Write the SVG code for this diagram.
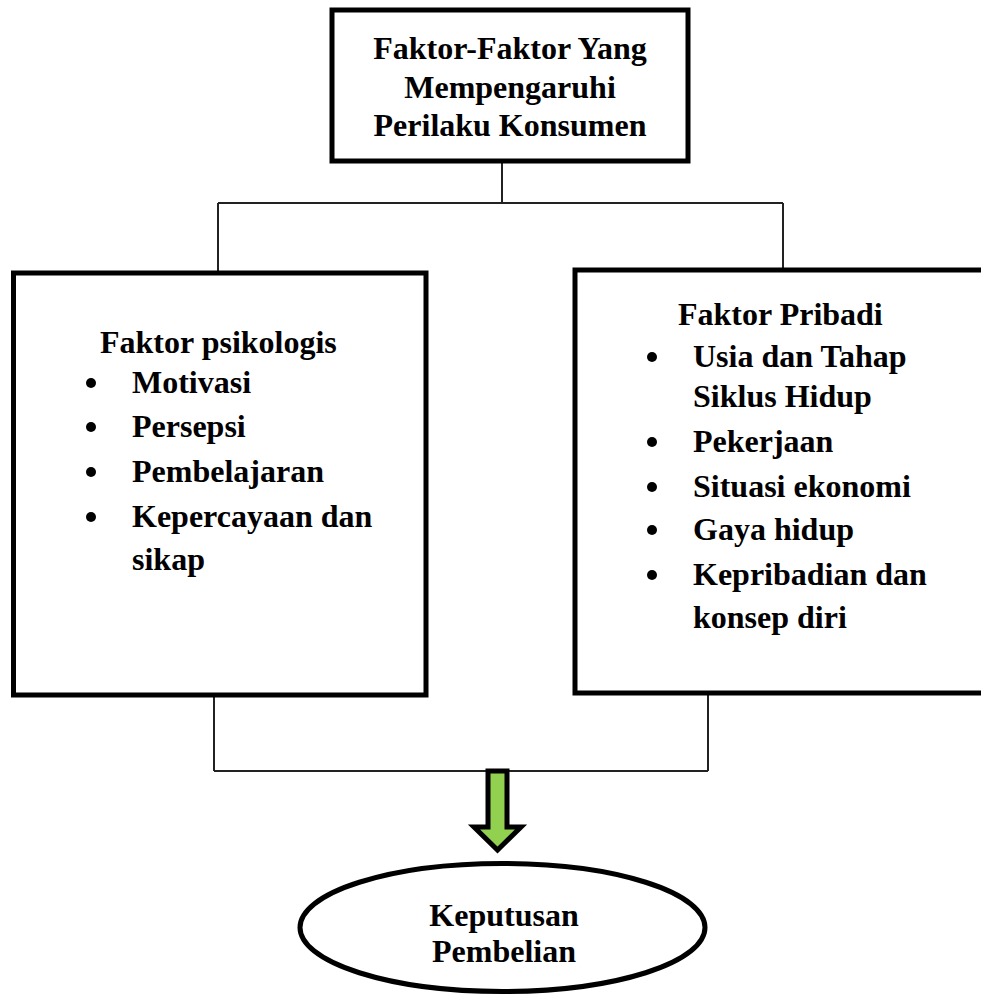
<svg xmlns="http://www.w3.org/2000/svg" width="981" height="994" viewBox="0 0 981 994">
<style>
.box{fill:#fff;stroke:#000;stroke-width:5;stroke-linejoin:miter}
.ln{fill:none;stroke:#222;stroke-width:2}
.t{font-family:"Liberation Serif","Times New Roman",serif;font-weight:bold;font-size:32px;fill:#000}
.c{text-anchor:middle}
</style>
<rect width="981" height="994" fill="#fff"/>
<g id="connectors">
<path class="ln" d="M502,162 V203 M218,203 H783 M218,203 V271 M783,203 V268"/>
<path class="ln" d="M214,697 V771 M708,694 V771 M214,771 H708"/>
<path d="M488,771 H507 V827 H521 L497.5,850 L474,827 H488 Z" fill="#92d050" stroke="#000" stroke-width="5" stroke-linejoin="miter"/>
</g>
<g id="top">
<rect class="box" x="332" y="10" width="356" height="151"/>
<text class="t c" x="510" y="59">Faktor-Faktor Yang</text>
<text class="t c" x="510" y="98">Mempengaruhi</text>
<text class="t c" x="510" y="136">Perilaku Konsumen</text>
</g>
<g id="psikologis">
<rect class="box" x="13.5" y="273" width="412.5" height="422"/>
<text class="t" x="100" y="353">Faktor psikologis</text>
<g fill="#000"><circle cx="91" cy="383" r="5"/><circle cx="91" cy="427" r="5"/><circle cx="91" cy="472" r="5"/><circle cx="91" cy="517" r="5"/></g>
<text class="t" x="132" y="393">Motivasi</text>
<text class="t" x="132" y="437">Persepsi</text>
<text class="t" x="132" y="482">Pembelajaran</text>
<text class="t" x="132" y="527">Kepercayaan dan</text>
<text class="t" x="132" y="570">sikap</text>
</g>
<g id="pribadi">
<rect class="box" x="575" y="270" width="420" height="423"/>
<text class="t" x="678" y="325">Faktor Pribadi</text>
<g fill="#000"><circle cx="652" cy="357" r="5"/><circle cx="652" cy="442" r="5"/><circle cx="652" cy="487" r="5"/><circle cx="652" cy="530" r="5"/><circle cx="652" cy="575" r="5"/></g>
<text class="t" x="693" y="367">Usia dan Tahap</text>
<text class="t" x="693" y="407">Siklus Hidup</text>
<text class="t" x="693" y="452">Pekerjaan</text>
<text class="t" x="693" y="497">Situasi ekonomi</text>
<text class="t" x="693" y="540">Gaya hidup</text>
<text class="t" x="693" y="585">Kepribadian dan</text>
<text class="t" x="693" y="628">konsep diri</text>
</g>
<g id="keputusan">
<ellipse class="box" cx="502.5" cy="927.5" rx="202.5" ry="64"/>
<text class="t c" x="504" y="926">Keputusan</text>
<text class="t c" x="504" y="962">Pembelian</text>
</g>
</svg>
